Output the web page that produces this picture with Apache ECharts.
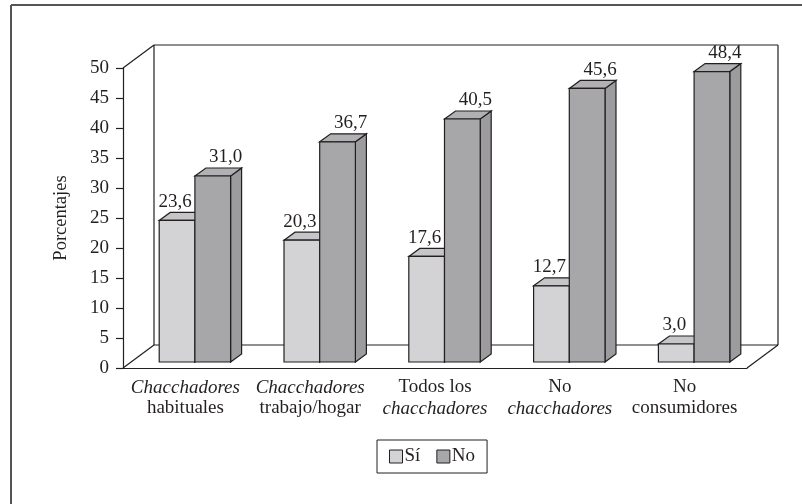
<!DOCTYPE html>
<html>
<head>
<meta charset="utf-8">
<script src="https://cdn.jsdelivr.net/npm/echarts@6/dist/echarts.min.js"></script>
<style>
  html, body { margin: 0; padding: 0; background: #fff; }
  #main { width: 802px; height: 504px; }
</style>
</head>
<body>
<div id="main"></div>
<script>
// datos del gráfico
const categories = [
  '{i|Chacchadores}\n{n|habituales}',
  '{i|Chacchadores}\n{n|trabajo/hogar}',
  '{n|Todos los}\n{i|chacchadores}',
  '{n|No}\n{i|chacchadores}',
  '{n|No}\n{n|consumidores}'
];
const siValues = [23.6, 20.3, 17.6, 12.7, 3.0];
const noValues = [31.0, 36.7, 40.5, 45.6, 48.4];
const yMin = 0, yMax = 50, yStep = 5;

// estilo / perspectiva (pixeles)
const FONT = '"Liberation Serif", "Times New Roman", serif';
const FS = 19;
const INK = '#231f20';
const DX = 31, DY = -23;        // profundidad del cubo
const OFF_X = 9.5, OFF_Y = -6;  // posición de las barras dentro del cubo
const BDX = 11, BDY = -8;       // profundidad de cada barra
const BAR_FRAC = 0.286;

const siColors = { front: '#d3d3d5', top: '#c6c6c8', side: '#b9b9bb', labelDx: -2 };
const noColors = { front: '#a7a7aa', top: '#b1b1b3', side: '#9c9c9f', labelDx: 13 };

function fmt(v) { return v.toFixed(1).replace('.', ','); }

function renderFrame(params) {
  const cs = params.coordSys;
  const x0 = cs.x, y0 = cs.y, w = cs.width, h = cs.height;
  const ln = (a, b, c, d) => ({
    type: 'line', shape: { x1: a, y1: b, x2: c, y2: d },
    style: { stroke: INK, lineWidth: 1.2 }
  });
  return {
    type: 'group',
    children: [
      ln(x0, y0, x0 + DX, y0 + DY),
      ln(x0 + DX, y0 + DY, x0 + w + DX, y0 + DY),
      ln(x0 + DX, y0 + DY, x0 + DX, y0 + h + DY),
      ln(x0 + w + DX, y0 + DY, x0 + w + DX, y0 + h + DY),
      ln(x0 + DX, y0 + h + DY, x0 + w + DX, y0 + h + DY),
      ln(x0, y0 + h, x0 + DX, y0 + h + DY),
      ln(x0 + w, y0 + h, x0 + w + DX, y0 + h + DY)
    ]
  };
}

function barRenderer(side, colors) {
  return function (params, api) {
    const idx = api.value(0), val = api.value(1);
    const base = api.coord([idx, 0]);
    const top = api.coord([idx, val]);
    const band = api.size([1, 0])[0];
    const w = band * BAR_FRAC;
    const cx = base[0] + OFF_X;
    const l = side === 0 ? cx - w : cx;
    const r = l + w;
    const b = base[1] + OFF_Y;
    const t = top[1] + OFF_Y;
    const st = (fill) => ({ fill: fill, stroke: INK, lineWidth: 1.2 });
    return {
      type: 'group',
      children: [
        { type: 'polygon', shape: { points: [[r, t], [r + BDX, t + BDY], [r + BDX, b + BDY], [r, b]] }, style: st(colors.side) },
        { type: 'polygon', shape: { points: [[l, t], [l + BDX, t + BDY], [r + BDX, t + BDY], [r, t]] }, style: st(colors.top) },
        { type: 'rect', shape: { x: l, y: t, width: w, height: b - t }, style: st(colors.front) },
        { type: 'text', style: {
            text: fmt(val), x: (l + r) / 2 + colors.labelDx, y: t + BDY - 1,
            align: 'center', verticalAlign: 'bottom',
            font: FS + 'px ' + FONT, fill: INK
        } }
      ]
    };
  };
}

const chart = echarts.init(document.getElementById('main'));
const option = {
  backgroundColor: '#fff',
  animation: false,
  graphic: [
    { type: 'line', shape: { x1: 11, y1: 5, x2: 802, y2: 5 }, style: { stroke: '#555', lineWidth: 2 } },
    { type: 'line', shape: { x1: 11, y1: 5, x2: 11, y2: 504 }, style: { stroke: '#555', lineWidth: 2 } }
  ],
  grid: { left: 123, right: 55, top: 68, bottom: 136 },
  legend: {
    data: ['Sí', 'No'],
    left: 377, top: 440,
    padding: [7, 12, 7, 12],
    borderColor: INK, borderWidth: 1,
    itemWidth: 13, itemHeight: 13, itemGap: 16,
    icon: 'rect',
    itemStyle: { borderColor: INK, borderWidth: 1 },
    textStyle: { fontFamily: FONT, fontSize: FS, color: INK, padding: [0, 0, 0, -3] }
  },
  xAxis: {
    type: 'category',
    data: categories,
    axisLine: { lineStyle: { color: INK, width: 1.2 } },
    axisTick: { length: 6, lineStyle: { color: INK, width: 1.2 } },
    axisLabel: {
      margin: 9,
      formatter: (v) => v,
      rich: {
        i: { fontFamily: FONT, fontSize: FS, fontStyle: 'italic', color: INK, lineHeight: 21 },
        n: { fontFamily: FONT, fontSize: FS, color: INK, lineHeight: 21 }
      }
    },
    splitLine: { show: false }
  },
  yAxis: {
    type: 'value',
    min: yMin, max: yMax, interval: yStep,
    name: 'Porcentajes',
    nameLocation: 'middle',
    nameRotate: 90,
    nameGap: 52,
    nameTextStyle: { fontFamily: FONT, fontSize: 18.5, color: INK },
    axisLine: { show: true, lineStyle: { color: INK, width: 1.2 } },
    axisTick: { show: true, length: 7, lineStyle: { color: INK, width: 1.2 } },
    axisLabel: { margin: 14, fontFamily: FONT, fontSize: FS, color: INK },
    splitLine: { show: false }
  },
  series: [
    { type: 'custom', name: 'frame', silent: true, renderItem: renderFrame, data: [[0, 0]], z: 1 },
    { type: 'custom', name: 'Sí', renderItem: barRenderer(0, siColors), itemStyle: { color: siColors.front },
      data: siValues.map((v, i) => [i, v]), encode: { x: 0, y: 1 }, z: 2 },
    { type: 'custom', name: 'No', renderItem: barRenderer(1, noColors), itemStyle: { color: noColors.front },
      data: noValues.map((v, i) => [i, v]), encode: { x: 0, y: 1 }, z: 3 }
  ]
};
chart.setOption(option);
window.addEventListener('resize', () => chart.resize());
</script>
</body>
</html>
